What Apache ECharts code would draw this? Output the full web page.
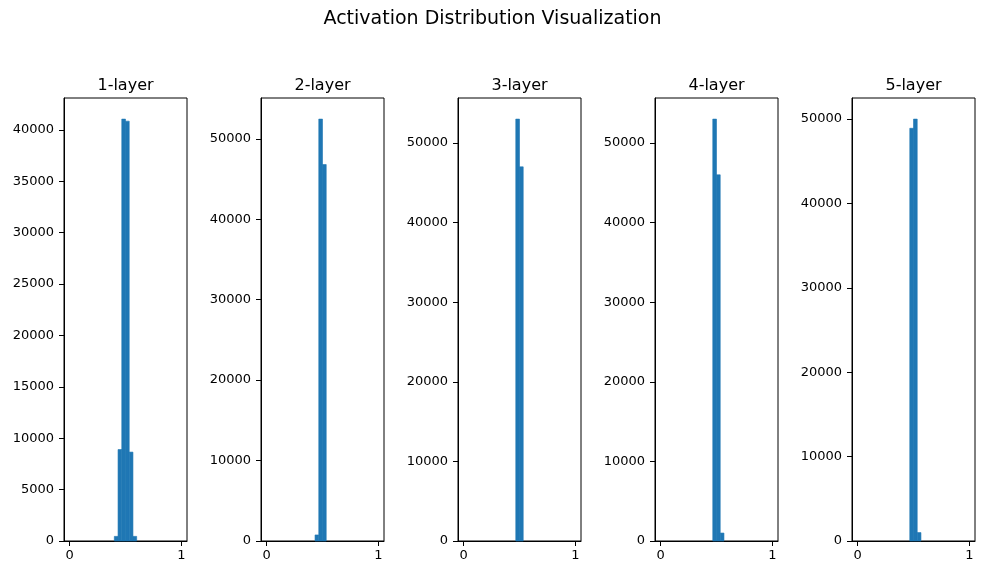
<!DOCTYPE html>
<html>
<head>
<meta charset="utf-8">
<script src="https://cdn.jsdelivr.net/npm/echarts@6/dist/echarts.min.js"></script>
<style>
  html, body { margin: 0; padding: 0; background: #fff; }
  #main { width: 985px; height: 574px; }
</style>
</head>
<body>
<div id="main"></div>
<script>
// data: 30 bins over [0, 1], counts per bin
var binCount = 30;
var layerNames = ["1-layer", "2-layer", "3-layer", "4-layer", "5-layer"];

var layer1 = [0,0,0,0,0,0,0,0,0,0, 0,0,450,8900,41050,40850,8650,450,0,0, 0,0,0,0,0,0,0,0,0,0];
var layer2 = [0,0,0,0,0,0,0,0,0,0, 0,0,0,750,52450,46800,0,0,0,0, 0,0,0,0,0,0,0,0,0,0];
var layer3 = [0,0,0,0,0,0,0,0,0,0, 0,0,0,0,53000,47000,0,0,0,0, 0,0,0,0,0,0,0,0,0,0];
var layer4 = [0,0,0,0,0,0,0,0,0,0, 0,0,0,0,53000,46000,1000,0,0,0, 0,0,0,0,0,0,0,0,0,0];
var layer5 = [0,0,0,0,0,0,0,0,0,0, 0,0,0,0,48900,49990,1000,0,0,0, 0,0,0,0,0,0,0,0,0,0];
var layers = [layer1, layer2, layer3, layer4, layer5];

// tick labels
var xTicks = [0, 1];
var yTicks1 = [0, 5000, 10000, 15000, 20000, 25000, 30000, 35000, 40000];
var yTicksOther = [0, 10000, 20000, 30000, 40000, 50000];
var yTicks = [yTicks1, yTicksOther, yTicksOther, yTicksOther, yTicksOther];

var font = "DejaVu Sans";
var barColor = "#1f77b4";

// panel layout
var gridLefts = [64, 261, 458, 655, 852];
var gridWidth = 123;
var gridTop = 98;
var gridHeight = 443;

var myChart = echarts.init(document.getElementById("main"));

var grids = [], xAxes = [], yAxes = [], series = [];
var titles = [{
    text : "Activation Distribution Visualization",
    left : "center",
    top : 10,
    padding : 0,
    textStyle : {fontFamily : font, fontSize : 19, fontWeight : "normal", color : "#000"}
}];

function plain(v){ return String(v); }

function each(arr, fn){ for(var i = 0; i < arr.length; i++){ fn(i, arr[i]); } }

each(layers, function(i, counts){

    // histogram bars as [x0, x1, count]
    var bars = [];
    var maxCount = 0;
    each(counts, function(k, c){
        if(c > 0){
            bars.push([k / binCount, (k + 1) / binCount, c]);
        }
        if(c > maxCount) maxCount = c;
    });

    grids.push({
        left : gridLefts[i],
        top : gridTop,
        width : gridWidth,
        height : gridHeight,
        show : true,
        borderColor : "#000",
        borderWidth : 1,
        backgroundColor : "transparent"
    });

    xAxes.push({
        type : "value",
        gridIndex : i,
        min : -0.05,
        max : 1.05,
        axisLine : {show : true, onZero : false, lineStyle : {color : "#000", width : 1}},
        axisTick : {show : true, inside : false, length : 5, customValues : xTicks, lineStyle : {color : "#000", width : 1}},
        axisLabel : {customValues : xTicks, formatter : plain, color : "#000", fontFamily : font, fontSize : 13, margin : 8},
        splitLine : {show : false}
    });

    yAxes.push({
        type : "value",
        gridIndex : i,
        min : 0,
        max : maxCount * 1.05,
        axisLine : {show : true, onZero : false, lineStyle : {color : "#000", width : 1}},
        axisTick : {show : true, inside : false, length : 5, customValues : yTicks[i], lineStyle : {color : "#000", width : 1}},
        axisLabel : {customValues : yTicks[i], formatter : plain, color : "#000", fontFamily : font, fontSize : 13, margin : 10},
        splitLine : {show : false}
    });

    series.push({
        type : "custom",
        xAxisIndex : i,
        yAxisIndex : i,
        encode : {x : [0, 1], y : 2},
        data : bars,
        renderItem : function(params, api){
            var p0 = api.coord([api.value(0), api.value(2)]);
            var p1 = api.coord([api.value(1), 0]);
            return {
                type : "rect",
                shape : {x : p0[0], y : p0[1], width : p1[0] - p0[0], height : p1[1] - p0[1]},
                style : {fill : barColor, stroke : barColor, lineWidth : 0.6}
            };
        }
    });

    titles.push({
        text : layerNames[i],
        left : gridLefts[i] + gridWidth / 2,
        textAlign : "center",
        top : 78,
        padding : 0,
        textStyle : {fontFamily : font, fontSize : 16, fontWeight : "normal", color : "#000"}
    });
});

option = {
    animation : false,
    title : titles,
    grid : grids,
    xAxis : xAxes,
    yAxis : yAxes,
    series : series
};

myChart.setOption(option);
</script>
</body>
</html>
